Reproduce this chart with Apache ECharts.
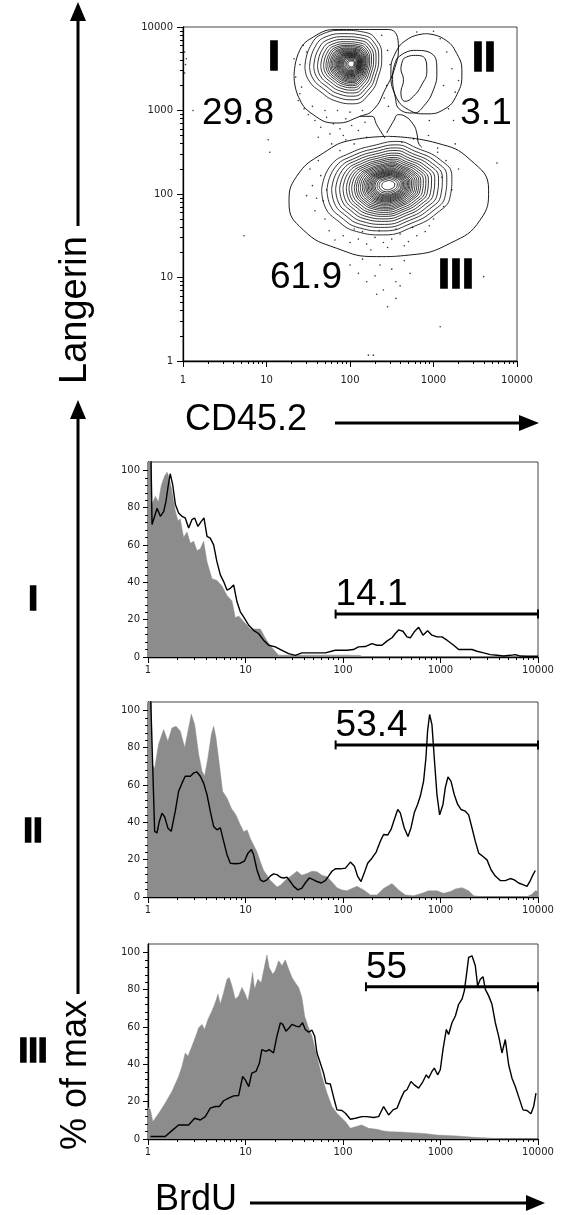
<!DOCTYPE html>
<html>
<head>
<meta charset="UTF-8">
<title>Langerin / CD45.2 and BrdU</title>
<script src="https://cdn.jsdelivr.net/npm/echarts@6.0.0/dist/echarts.min.js"></script>
<style>
  html, body { margin: 0; padding: 0; background: #fff; }
  #main { width: 567px; height: 1215px; }
</style>
</head>
<body>
<div id="main"></div>
<script type="text/javascript">
// ---- tick labels ----
var decadeLabels = ['1', '10', '100', '1000', '10000'];
var decadeTicks = [0, 1, 2, 3, 4];
var minorSteps = [2, 3, 4, 5, 6, 7, 8, 9];
var pctTicks = [0, 20, 40, 60, 80, 100];
var pctMinor = [4, 8, 12, 16, 24, 28, 32, 36, 44, 48, 52, 56, 64, 68, 72, 76, 84, 88, 92, 96];

// ---- contour plot (values in decades, log10 of intensity) ----
var centerI = [2.02, 3.56];
var outlineI = [[1.46, 3.52], [1.52, 3.76], [1.68, 3.92], [1.92, 3.96], [2.16, 3.94], [2.32, 3.84], [2.38, 3.64],
  [2.34, 3.41], [2.24, 3.21], [2.04, 3.08], [1.84, 3.11], [1.64, 3.23], [1.50, 3.37]];
var levelsI = [1, 0.9, 0.81, 0.73, 0.66, 0.6, 0.55, 0.51, 0.47, 0.44, 0.41, 0.38, 0.355, 0.33, 0.31, 0.29, 0.27,
  0.25, 0.23, 0.21, 0.19, 0.17, 0.14, 0.11, 0.08];

var centerIII = [2.46, 2.11];
var outlineIII = [[1.66, 2.05], [1.76, 2.33], [2.00, 2.49], [2.32, 2.59], [2.56, 2.63], [2.80, 2.55], [3.08, 2.41],
  [3.22, 2.21], [3.20, 1.97], [3.04, 1.77], [2.76, 1.61], [2.40, 1.51], [2.08, 1.55], [1.84, 1.69], [1.70, 1.85]];
var levelsIII = [1, 0.92, 0.85, 0.79, 0.73, 0.68, 0.63, 0.59, 0.55, 0.51, 0.48, 0.45, 0.42, 0.39, 0.365, 0.34, 0.32,
  0.3, 0.28, 0.26, 0.24, 0.22, 0.2, 0.17, 0.14, 0.1];

var innerII = [[2.64, 3.62], [2.76, 3.66], [2.90, 3.62], [2.92, 3.47], [2.86, 3.31], [2.76, 3.17], [2.66, 3.11],
  [2.61, 3.21], [2.64, 3.37], [2.61, 3.50]];
var middleII = [[2.56, 3.62], [2.76, 3.72], [2.98, 3.68], [3.04, 3.47], [3.00, 3.25], [2.88, 3.05], [2.76, 2.97],
  [2.60, 3.01], [2.54, 3.17], [2.51, 3.41]];

var gateI = [[1.33, 3.41], [1.38, 3.68], [1.56, 3.88], [1.86, 3.97], [2.46, 3.97], [2.58, 3.76], [2.54, 3.52],
  [2.42, 3.25], [2.28, 3.01], [2.12, 2.93], [1.84, 2.85], [1.56, 2.95], [1.38, 3.17]];
var gateII = [[2.91, 3.92], [3.12, 3.86], [3.28, 3.68], [3.34, 3.45], [3.28, 3.19], [3.12, 3.01], [2.91, 2.96],
  [2.70, 3.01], [2.54, 3.19], [2.49, 3.45], [2.54, 3.68], [2.70, 3.86]];
var gateIII = [[2.46, 2.69], [3.04, 2.61], [3.44, 2.41], [3.66, 2.05], [3.56, 1.69], [3.20, 1.41], [2.72, 1.27],
  [2.32, 1.25], [1.84, 1.35], [1.44, 1.57], [1.27, 1.89], [1.36, 2.21], [1.68, 2.49], [2.04, 2.65]];
var neckLeft = [[2.12, 2.93], [2.26, 2.93], [2.32, 2.83], [2.38, 2.73], [2.42, 2.67]];
var neckRight = [[2.44, 2.73], [2.52, 2.87], [2.58, 2.95], [2.66, 2.93], [2.76, 2.83], [2.80, 2.73], [2.82, 2.61], [2.86, 2.56]];

var dots = [
  [1.40, 3.55], [1.35, 3.40], [1.42, 3.28], [1.38, 3.12], [1.45, 3.02], [1.50, 2.95], [1.33, 3.62], [1.44, 3.78], [1.48, 3.70], [1.40, 3.20],
  [1.58, 2.88], [1.65, 2.80], [1.72, 2.92], [1.80, 2.84], [1.88, 2.78], [1.95, 2.90], [2.02, 2.82], [2.10, 2.76], [1.76, 2.72], [1.62, 2.68],
  [2.18, 2.86], [1.92, 2.70], [1.70, 3.00], [1.85, 3.00], [2.00, 2.98], [2.15, 3.00], [1.55, 3.05],
  [2.44, 3.30], [2.46, 3.05], [2.41, 3.15], [2.48, 3.55], [2.45, 3.72], [2.38, 3.90], [2.50, 3.40],
  [3.16, 3.70], [3.22, 3.50], [3.26, 3.22], [3.18, 3.02], [3.30, 3.36], [3.08, 3.86], [3.00, 3.95], [3.24, 2.88], [2.80, 3.94], [3.12, 3.30], [2.95, 2.88],
  [1.55, 2.10], [1.60, 1.95], [1.65, 2.22], [1.58, 1.80], [1.70, 1.70], [1.75, 1.56], [1.68, 1.92], [1.52, 2.30], [1.82, 1.45], [1.48, 1.98], [1.62, 2.40], [1.72, 2.05],
  [1.92, 1.50], [2.00, 1.42], [2.10, 1.46], [2.20, 1.40], [2.30, 1.48], [2.40, 1.42], [2.50, 1.46], [2.60, 1.52], [2.70, 1.43], [2.80, 1.50],
  [2.90, 1.55], [2.15, 1.55], [2.45, 1.36], [2.65, 1.38], [2.35, 1.56], [2.05, 1.58], [2.55, 1.58], [2.75, 1.60], [2.25, 1.33],
  [3.10, 2.20], [3.15, 2.40], [3.22, 2.05], [3.12, 1.85], [3.26, 2.60], [3.00, 1.70], [3.30, 2.30], [3.05, 2.55], [2.95, 1.62],
  [1.78, 2.60], [1.88, 2.52], [2.62, 2.62], [2.76, 2.66], [2.94, 2.70], [3.05, 2.50], [2.20, 2.68], [2.05, 2.60], [1.95, 2.65],
  [2.10, 1.05], [2.20, 0.95], [2.30, 1.02], [2.40, 0.85], [2.50, 1.10], [2.60, 0.90], [2.55, 0.75], [2.32, 0.80], [2.65, 1.20], [2.00, 1.15],
  [2.45, 0.65], [2.36, 1.15], [2.72, 1.05], [2.15, 1.22], [2.55, 0.95],
  [3.08, 0.41], [3.60, 1.01], [3.76, 2.37], [2.22, 0.07], [2.28, 0.07], [0.73, 1.50], [1.02, 2.65], [1.04, 2.50], [0.12, 3.00],
  [0.02, 3.70], [0.03, 3.55], [0.02, 3.45], [0.04, 3.62]
];

// ---- BrdU histograms: [BrdU intensity, % of max] ----
var h1Fill = [[1, 110], [1.08, 110], [1.1, 82], [1.19, 86], [1.28, 83], [1.37, 92], [1.48, 97], [1.57, 99], [1.65, 96], [1.76, 89],
  [1.91, 78], [2.03, 73], [2.14, 74], [2.32, 64], [2.51, 67], [2.72, 61], [2.94, 62], [3.18, 57], [3.44, 58], [3.72, 62],
  [4.03, 51], [4.53, 42], [5.1, 41], [5.74, 38], [6.46, 33], [7.27, 30], [7.86, 21], [8.5, 22], [9.57, 19], [11.2, 15],
  [12.6, 15], [14.2, 15], [16, 10], [18, 6], [20.2, 3], [21.9, 1], [30, 1], [60, 1], [110, 1], [150, 0.8], [160, 0], [10000, 0]];
var h1Line = [[1.07, 110], [1.1, 71], [1.14, 71], [1.24, 79.7], [1.34, 75.4], [1.45, 78], [1.53, 83.5], [1.6, 90.7], [1.69, 98.2],
  [1.79, 92.5], [1.91, 81.7], [2.06, 77.2], [2.23, 75.4], [2.41, 74.5], [2.61, 69.1], [2.82, 73.6], [3.01, 74.5], [3.25, 70],
  [3.52, 72.7], [3.75, 74.5], [4.03, 64.6], [4.35, 63.7], [4.71, 60.1], [5.09, 51.1], [5.52, 44], [5.97, 40.4], [6.46, 35.9],
  [6.99, 36.8], [7.56, 38.6], [8.18, 29.6], [8.85, 24.2], [9.57, 21.5], [10.8, 17], [12.1, 14.3], [13.6, 12.6], [15.3, 9],
  [17.3, 6.3], [20.2, 5.4], [23.7, 3.6], [27.7, 1.8], [32.4, 0.9], [37.9, 2.2], [48.1, 2.2], [65.8, 2.2], [83.3, 3.6],
  [94, 3.6], [110, 3.6], [128, 4], [144, 5.4], [169, 5.6], [198, 7.2], [223, 6.3], [251, 6.3], [282, 8.5], [318, 10.3],
  [344, 12.6], [372, 14.5], [412, 13.8], [453, 10.8], [490, 10.3], [538, 13.5], [597, 15.9], [661, 11.7], [737, 14.1],
  [817, 11.7], [920, 10.8], [1035, 10.8], [1166, 9], [1365, 6.3], [1538, 4], [1798, 4], [2104, 4], [2367, 3.1], [2772, 2.2],
  [3243, 1.3], [3799, 0.9], [4447, 0.5], [5200, 0.9], [5850, 1.3], [6590, 0.5], [7711, 0.4], [10000, 0.4]];

var h2Fill = [[1, 110], [1.08, 110], [1.1, 71], [1.17, 69], [1.285, 82], [1.446, 89.7], [1.6, 83.4], [1.76, 90.6], [1.94, 91.5],
  [2.14, 89], [2.38, 80], [2.61, 90.6], [2.78, 98], [3.01, 92.4], [3.31, 76.4], [3.58, 67.4], [3.81, 64.8], [4.12, 74.6],
  [4.46, 87], [4.71, 91.5], [4.98, 85.3], [5.39, 71], [5.83, 56.6], [6.46, 53], [7.15, 47.6], [7.98, 44], [8.85, 38.6],
  [9.57, 35], [10.4, 35.9], [11.2, 31.4], [12.1, 27.8], [13.1, 24.2], [14.2, 18.9], [15.3, 14.4], [16.6, 11.7], [17.9, 9],
  [19.4, 7.2], [21, 5.4], [22.8, 6.3], [25.6, 9], [30, 11.7], [33.7, 13.8], [37.9, 11.7], [42.7, 12.6], [48.1, 13.8],
  [54, 13.5], [60.8, 11.7], [68.5, 10.8], [77, 8.1], [86.7, 5], [97.5, 3.8], [110, 3.4], [139, 5.7], [163, 3.8], [191, 1.1],
  [223, 1.1], [261, 4.6], [318, 7.2], [372, 3.8], [436, 1.1], [531, 0.7], [646, 2], [756, 3.3], [920, 3.3], [1077, 2],
  [1261, 2.9], [1420, 4.3], [1662, 5], [1944, 3.3], [2188, 0.7], [2563, 0.2], [7711, 0.2], [8670, 1.5], [9380, 3.3], [10000, 3]];
var h2Line = [[1.06, 110], [1.17, 35.2], [1.236, 34.3], [1.306, 40.5], [1.39, 44.9], [1.48, 43], [1.6, 36.9], [1.73, 35.2],
  [1.905, 46], [2.06, 56.6], [2.23, 61], [2.41, 64.7], [2.72, 64.7], [2.94, 66.5], [3.18, 67], [3.44, 64.7], [3.72, 61],
  [4.03, 54.8], [4.35, 46], [4.71, 37.8], [5.09, 36], [5.52, 37], [5.97, 29.8], [6.46, 22.7], [6.99, 18.1], [7.86, 17.8],
  [8.85, 18.1], [9.8, 19.4], [10.6, 23.5], [11.5, 25.4], [12.1, 22.7], [13.1, 14.6], [14.2, 9.2], [15.3, 8.3], [16.6, 9.2],
  [17.9, 11.2], [19.4, 12.4], [21, 12], [22.8, 10.6], [24.6, 10.2], [26.6, 10.6], [28.8, 8.3], [31.2, 5.7], [34.5, 3.8],
  [37.9, 4.8], [41, 7.5], [45.1, 10.2], [50, 9.2], [54, 8.3], [59.8, 7.5], [65.8, 8.8], [71.1, 11.2], [77, 13.8], [83.4, 15.1],
  [93.8, 15.1], [106, 15.5], [119, 18.7], [131, 16.5], [141, 11.2], [153, 8.3], [165, 12.8], [179, 18.1], [198, 20.8],
  [219, 24.1], [241, 29.8], [261, 33.5], [287, 33.2], [311, 36.2], [336, 41.5], [364, 46.9], [387, 45.1], [425, 37],
  [464, 32.4], [498, 37], [538, 45.1], [582, 49.6], [621, 54.1], [671, 62.1], [709, 74.6], [737, 88.9], [773, 97.8],
  [817, 92.4], [863, 74.6], [920, 54.8], [980, 44], [1060, 49.6], [1120, 58.6], [1193, 64.3], [1280, 62.1], [1386, 54.8],
  [1500, 49.6], [1623, 46.9], [1798, 46], [1944, 44], [2104, 37], [2276, 29.8], [2464, 23.5], [2729, 21.7], [2999, 19.9],
  [3297, 14.6], [3650, 11.2], [4105, 8.8], [4620, 8.8], [5200, 9.9], [5715, 9.2], [6327, 7.5], [7012, 6.6], [7711, 5.7],
  [8340, 8.8], [8880, 11.9], [9380, 14.2]];

var h3Fill = [[1, 17], [1.06, 15.6], [1.12, 9.3], [1.29, 13.8], [1.5, 19.2], [1.76, 25.5], [2.06, 33.5], [2.23, 38.9], [2.41, 46.1],
  [2.57, 44.3], [2.82, 49.7], [3.05, 54.2], [3.31, 59.6], [3.58, 61.4], [3.81, 58.7], [4.12, 64.1], [4.53, 68.6], [4.9, 73.1],
  [5.22, 77.6], [5.52, 72.2], [5.97, 78.5], [6.46, 85.6], [6.82, 86.5], [7.26, 82], [7.86, 74.9], [8.5, 76.7], [9.2, 81.2],
  [9.95, 77.6], [10.6, 74], [11.5, 84.7], [11.8, 89.2], [12.4, 80.2], [13.4, 85.6], [14.5, 83.8], [15.7, 92.8], [16.6, 98.6],
  [17.5, 91.9], [19, 88.3], [20.2, 90.1], [21.9, 95.5], [23.7, 92.8], [25.6, 96], [27.7, 91], [30, 86.5], [32.4, 83.8],
  [35.1, 81.2], [37.9, 75.8], [40.4, 65.9], [43.7, 60.5], [48.1, 55.1], [52, 47.9], [56.2, 40.7], [60.8, 33.5], [68.5, 24.6],
  [77, 17.4], [86.7, 13.8], [97.5, 11.1], [106, 9.3], [119, 5.7], [134, 6.6], [156, 7.5], [183, 5.7], [223, 5.2], [261, 4.3],
  [306, 3.9], [387, 3.7], [490, 3.4], [671, 3], [920, 2.1], [1476, 1.6], [2188, 0.9], [3508, 0.4], [4105, 0], [10000, 0]];
var h3Line = [[1.06, 1.3], [1.5, 1.3], [1.76, 4.5], [2.06, 7.5], [2.61, 7.5], [3.01, 11.1], [3.44, 10.2], [3.87, 12], [4.35, 16.5],
  [4.9, 17.4], [5.39, 17.4], [5.97, 20.5], [6.71, 21.9], [7.56, 23.1], [8.5, 23.3], [9.35, 33.5], [9.95, 31.7], [10.8, 28.1],
  [11.6, 35.3], [12.8, 36.2], [13.9, 40.7], [14.7, 47.9], [16.2, 47], [17.5, 47.9], [19.4, 46.1], [21, 55.1], [22.8, 62.3],
  [24.1, 61.4], [26, 57.8], [28.1, 59.6], [30, 61.4], [33, 60.5], [35.6, 60.1], [38.5, 62.3], [41, 58.7], [44.4, 57.3],
  [48.1, 58.3], [51.2, 55.1], [54.1, 46.1], [58.5, 40.7], [63.2, 35.3], [66.8, 29.9], [74.1, 29.5], [80.1, 22.4], [86.7, 15.6],
  [97.5, 15.3], [106, 13.8], [119, 10.6], [134, 11.1], [156, 12], [176, 12], [206, 11.5], [232, 12], [261, 17.4], [294, 12.9],
  [326, 15.6], [358, 16.5], [394, 21.9], [425, 25.5], [453, 26.4], [498, 30.8], [538, 29], [597, 27.3], [661, 30.8],
  [715, 34.4], [755, 32.6], [817, 36.2], [864, 38], [935, 34.4], [995, 37.1], [1060, 47.9], [1148, 58.7], [1211, 56],
  [1311, 62.3], [1420, 65.9], [1535, 72.2], [1661, 74.9], [1755, 79.4], [1840, 87.4], [1944, 97.3], [2104, 98.2], [2276, 92.8],
  [2404, 82], [2560, 85.6], [2729, 87], [2884, 80.2], [3119, 76.7], [3373, 72.2], [3650, 62.3], [3948, 55.1], [4273, 46.1],
  [4620, 53.3], [5000, 39.8], [5410, 32.6], [5850, 28.1], [6327, 22.7], [7012, 15.6], [7711, 15.3], [8470, 13.5],
  [9020, 17.4], [9530, 24.6]];

// BrdU+ gates
var gateLow = [84, 84, 172];
var gateHigh = [10000, 10000, 10000];
var gateLevel = [23, 81.5, 81.6];
var gateText = ['14.1', '53.4', '55'];

// ---- build ----
var myChart = echarts.init(document.getElementById('main'), null, {renderer: 'canvas'});

var minorDecades = [];
for (var k = 0; k < 4; k++) {
  minorSteps.forEach(function (m) { minorDecades.push(k + Math.log10(m)); });
}
function toDec(pts) { return pts.map(function (p) { return [Math.log10(p[0]), p[1]]; }); }
function closed(pts) { return pts.concat([pts[0]]); }
function ring(outline, c, s) {
  return closed(outline.map(function (p) { return [c[0] + s * (p[0] - c[0]), c[1] + s * (p[1] - c[1])]; }));
}

var tickFont = {fontFamily: 'DejaVu Sans', fontSize: 10, color: '#222'};
var black = '#000';

var grids = [
  {left: 183, top: 27, width: 334, height: 334},
  {left: 148, top: 462, width: 390, height: 195},
  {left: 148, top: 702, width: 390, height: 195},
  {left: 148, top: 944, width: 390, height: 195}
];
grids.forEach(function (g) { g.show = true; g.borderColor = '#444'; g.borderWidth = 1; });

function majorX(gi, margin) {
  return {type: 'value', gridIndex: gi, position: 'bottom', min: 0, max: 4, interval: 1,
    axisLine: {show: true, onZero: false, lineStyle: {color: black, width: 1.3}},
    axisTick: {show: true, length: 6, customValues: decadeTicks, lineStyle: {color: black}},
    axisLabel: Object.assign({customValues: decadeTicks, margin: margin,
      formatter: function (v) { return decadeLabels[Math.round(v)]; }}, tickFont),
    splitLine: {show: false}};
}
function minorAxis(gi, pos, values) {
  return {type: 'value', gridIndex: gi, position: pos, min: 0, max: pos === 'left' && gi > 0 ? 104.5 : 4,
    axisLine: {show: false, onZero: false}, axisLabel: {show: false}, splitLine: {show: false},
    axisTick: {show: true, length: 3, customValues: values, lineStyle: {color: black}}};
}

var xAxes = [majorX(0, 14), minorAxis(0, 'bottom', minorDecades)];
var yAxes = [
  {type: 'value', gridIndex: 0, position: 'left', min: 0, max: 4, interval: 1,
    axisLine: {show: true, onZero: false, lineStyle: {color: black, width: 1.3}},
    axisTick: {show: true, length: 6, customValues: decadeTicks, lineStyle: {color: black}},
    axisLabel: Object.assign({customValues: decadeTicks, margin: 10,
      formatter: function (v) { return decadeLabels[Math.round(v)]; }}, tickFont),
    splitLine: {show: false}},
  minorAxis(0, 'left', minorDecades)
];
for (var i = 1; i <= 3; i++) {
  xAxes.push(majorX(i, 8), minorAxis(i, 'bottom', minorDecades));
  yAxes.push({type: 'value', gridIndex: i, position: 'left', min: 0, max: 104.5, interval: 20,
    axisLine: {show: true, onZero: false, lineStyle: {color: black, width: 1.3}},
    axisTick: {show: true, length: 5, customValues: pctTicks, lineStyle: {color: black}},
    axisLabel: Object.assign({customValues: pctTicks, margin: 8}, tickFont),
    splitLine: {show: false}}, minorAxis(i, 'left', pctMinor));
}

var series = [];
function contour(pts, width) {
  series.push({type: 'line', xAxisIndex: 0, yAxisIndex: 0, data: pts, smooth: 0.5, symbol: 'none', silent: true,
    lineStyle: {color: black, width: width}, z: 3});
}
levelsI.forEach(function (s) { contour(ring(outlineI, centerI, s), 0.8); });
levelsIII.forEach(function (s) { contour(ring(outlineIII, centerIII, s), 0.8); });
contour(closed(innerII), 0.9);
contour(closed(middleII), 0.9);
contour(closed(gateI), 0.9);
contour(closed(gateII), 0.9);
contour(closed(gateIII), 0.9);
contour(neckLeft, 0.9);
contour(neckRight, 0.9);
series.push({type: 'scatter', xAxisIndex: 0, yAxisIndex: 0, data: dots, symbolSize: 1.6, silent: true,
  itemStyle: {color: black}, z: 2});

var fills = [h1Fill, h2Fill, h3Fill];
var lines = [h1Line, h2Line, h3Line];
for (var j = 0; j < 3; j++) {
  var ax = 2 + 2 * j;
  series.push({type: 'line', xAxisIndex: ax, yAxisIndex: ax, data: toDec(fills[j]), symbol: 'none', silent: true,
    lineStyle: {width: 0.5, color: '#8c8c8c'}, areaStyle: {color: '#8c8c8c', opacity: 1}, z: 2});
  series.push({type: 'line', xAxisIndex: ax, yAxisIndex: ax, data: toDec(lines[j]), symbol: 'none', silent: true,
    lineStyle: {width: 1.4, color: black}, z: 3});
  series.push({type: 'line', xAxisIndex: ax, yAxisIndex: ax, silent: true, clip: false,
    data: [
      {value: [Math.log10(gateLow[j]), gateLevel[j]],
        label: {show: true, formatter: gateText[j], position: [1, 4], align: 'left', verticalAlign: 'bottom',
          fontFamily: 'Liberation Sans', fontSize: 37, color: black, opacity: 1}},
      [Math.log10(gateHigh[j]), gateLevel[j]]
    ],
    symbol: 'rect', symbolSize: [2, 9], showSymbol: true,
    lineStyle: {width: 3, color: black}, itemStyle: {color: black}, z: 4});
}

function txt(s, x, y, font, opts) {
  return {type: 'text', x: x, y: y, silent: true, z: 10,
    style: Object.assign({text: s, font: font, fill: black, align: 'center', verticalAlign: 'middle',
      textAlign: 'center', textVerticalAlign: 'middle'}, opts || {})};
}
var big = '37px "Liberation Sans"';
var roman = 'bold 43px "Liberation Sans"';
var romanSide = 'bold 35px "Liberation Sans"';
var thick = {stroke: black, lineWidth: 1.5};
var graphics = [
  // contour plot annotations
  txt('I', 274, 58, roman, thick),
  txt('II', 484, 59, roman, thick),
  txt('III', 456, 276, roman, thick),
  txt('29.8', 238, 114, big),
  txt('3.1', 486, 114, big),
  txt('61.9', 306, 278, big),
  // side labels
  txt('I', 33, 600, romanSide, thick),
  txt('II', 33, 832, romanSide, thick),
  txt('III', 33, 1052, romanSide, thick),
  // axis titles
  {type: 'text', x: 76, y: 310, rotation: Math.PI / 2, silent: true,
    style: {text: 'Langerin', font: '38px "Liberation Sans"', fill: black, align: 'center', verticalAlign: 'middle',
      textAlign: 'center', textVerticalAlign: 'middle'}},
  {type: 'text', x: 76, y: 1075, rotation: Math.PI / 2, silent: true,
    style: {text: '% of max', font: '36px "Liberation Sans"', fill: black, align: 'center', verticalAlign: 'middle',
      textAlign: 'center', textVerticalAlign: 'middle'}},
  txt('CD45.2', 185, 420, '36px "Liberation Sans"', {align: 'left', textAlign: 'left'}),
  txt('BrdU', 155, 1200, '36px "Liberation Sans"', {align: 'left', textAlign: 'left'}),
  // arrows
  {type: 'line', silent: true, shape: {x1: 78, y1: 226, x2: 78, y2: 18}, style: {stroke: black, lineWidth: 3}},
  {type: 'polygon', silent: true, shape: {points: [[70, 21], [86, 21], [78, 2]]}, style: {fill: black}},
  {type: 'line', silent: true, shape: {x1: 78, y1: 994, x2: 78, y2: 416}, style: {stroke: black, lineWidth: 3}},
  {type: 'polygon', silent: true, shape: {points: [[70, 419], [86, 419], [78, 400]]}, style: {fill: black}},
  {type: 'line', silent: true, shape: {x1: 335, y1: 423, x2: 522, y2: 423}, style: {stroke: black, lineWidth: 3}},
  {type: 'polygon', silent: true, shape: {points: [[519, 415], [519, 431], [539, 423]]}, style: {fill: black}},
  {type: 'line', silent: true, shape: {x1: 250, y1: 1203, x2: 528, y2: 1203}, style: {stroke: black, lineWidth: 3}},
  {type: 'polygon', silent: true, shape: {points: [[526, 1195], [526, 1211], [545, 1203]]}, style: {fill: black}}
];

var option = {
  backgroundColor: '#fff',
  animation: false,
  grid: grids,
  xAxis: xAxes,
  yAxis: yAxes,
  series: series,
  graphic: {elements: graphics}
};
myChart.setOption(option);
</script>
</body>
</html>
